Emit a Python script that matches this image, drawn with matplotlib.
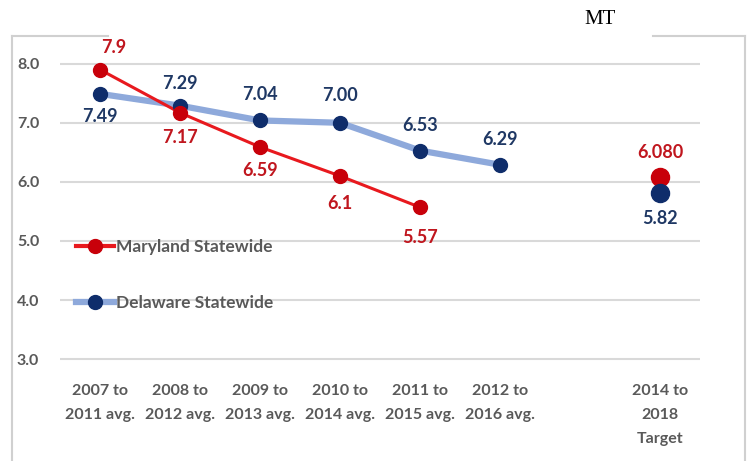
import numpy as np
import matplotlib
matplotlib.use('Agg')
import matplotlib.pyplot as plt
from matplotlib.lines import Line2D

plt.rcParams['font.family'] = ['Lato', 'DejaVu Sans']

categories = ['2007 to\n2011 avg.', '2008 to\n2012 avg.', '2009 to\n2013 avg.',
              '2010 to\n2014 avg.', '2011 to\n2015 avg.', '2012 to\n2016 avg.',
              '2014 to\n2018\nTarget']
cat_pos = [0, 1, 2, 3, 4, 5, 7]

md_vals = [7.9, 7.17, 6.59, 6.1, 5.57]
md_labels = ['7.9', '7.17', '6.59', '6.1', '5.57']
md_target = 6.08
md_target_label = '6.080'

de_vals = [7.49, 7.29, 7.04, 7.00, 6.53, 6.29]
de_labels = ['7.49', '7.29', '7.04', '7.00', '6.53', '6.29']
de_target = 5.82
de_target_label = '5.82'

red_line = '#E8191E'
red_mark = '#C8000A'
red_text = '#C0161E'
blue_line = '#8EA9DB'
blue_mark = '#0F2D6B'
blue_text = '#1F3864'
gray_text = '#595959'

fig = plt.figure(figsize=(7.52, 4.61), dpi=100)
ax = fig.add_axes([60 / 752, 96 / 461, 640 / 752, 319 / 461])

# frame around the chart (top edge partly hidden in the source)
frame_kw = dict(transform=fig.transFigure, color='#D0D0D0', lw=1.5)
top = 1 - 36 / 461
fig.add_artist(Line2D([12 / 752, 12 / 752], [0, top], **frame_kw))
fig.add_artist(Line2D([745 / 752, 745 / 752], [0, top], **frame_kw))
fig.add_artist(Line2D([12 / 752, 108 / 752], [top, top], **frame_kw))
fig.add_artist(Line2D([653 / 752, 745 / 752], [top, top], **frame_kw))
fig.text(600 / 752, 1 - 20 / 461, 'MT', family='Liberation Serif', fontsize=15,
         ha='center', va='center', color='black')

# lines
ax.plot(range(len(de_vals)), de_vals, color=blue_line, lw=4.5, zorder=2, solid_capstyle='round')
ax.plot(range(len(md_vals)), md_vals, color=red_line, lw=2.2, zorder=3)
ax.plot(range(len(de_vals)), de_vals, 'o', color=blue_mark, ms=10, zorder=4)
ax.plot(range(len(md_vals)), md_vals, 'o', color=red_mark, ms=10, zorder=5)
ax.plot([7], [md_target], 'o', color=red_mark, ms=13, zorder=4)
ax.plot([7], [de_target], 'o', color=blue_mark, ms=13, zorder=5)

lab_kw = dict(textcoords='offset points', ha='center', va='center', fontsize=13, fontweight='bold')
md_offsets = [(10, 16), (0, -18), (0, -17), (0, -20), (0, -22)]
for i, (v, t) in enumerate(zip(md_vals, md_labels)):
    ax.annotate(t, (i, v), xytext=md_offsets[i], color=red_text, **lab_kw)
de_offsets = [(0, -16), (0, 16), (0, 19), (0, 20), (0, 18), (0, 18)]
for i, (v, t) in enumerate(zip(de_vals, de_labels)):
    ax.annotate(t, (i, v), xytext=de_offsets[i], color=blue_text, **lab_kw)
ax.annotate(md_target_label, (7, md_target), xytext=(0, 18), color=red_text, **lab_kw)
ax.annotate(de_target_label, (7, de_target), xytext=(0, -19), color=blue_text, **lab_kw)

ax.set_xlim(-0.5, 7.5)
ax.set_ylim(2.9, 8.3)
ax.set_yticks([3, 4, 5, 6, 7, 8])
ax.set_yticklabels(['3.0', '4.0', '5.0', '6.0', '7.0', '8.0'])
ax.set_xticks(cat_pos)
ax.set_xticklabels(categories, linespacing=1.9, va='top')
ax.tick_params(length=0, labelsize=11.5, colors=gray_text)
ax.tick_params(axis='x', pad=14)
ax.tick_params(axis='y', pad=15)
for lab in ax.get_xticklabels() + ax.get_yticklabels():
    lab.set_fontweight('bold')
ax.grid(axis='y', color='#D9D9D9', lw=1.5)
ax.set_axisbelow(True)
for s in ax.spines.values():
    s.set_visible(False)

handles = [Line2D([], [], color=red_line, lw=3, marker='o', ms=10, mfc=red_mark, mec=red_mark),
           Line2D([], [], color=blue_line, lw=4.5, marker='o', ms=10, mfc=blue_mark, mec=blue_mark)]
leg = ax.legend(handles, ['Maryland Statewide', 'Delaware Statewide'], loc='upper left',
                bbox_to_anchor=(0.0, 0.445), frameon=False, prop={'size': 12.5, 'weight': 'bold'},
                handlelength=2.2, handletextpad=0.15, labelspacing=2.3)
for t in leg.get_texts():
    t.set_color(gray_text)

fig.savefig('out.png', dpi=100)
